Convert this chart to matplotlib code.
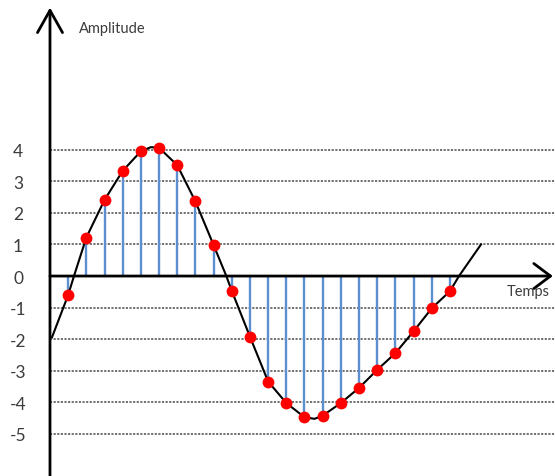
import matplotlib
matplotlib.use("Agg")
import matplotlib.pyplot as plt

plt.rcParams['font.family'] = ['Lato', 'DejaVu Sans']

# Sample instants and sampled amplitudes (red dots + blue stems)
sample_t = list(range(1, 23))
sample_v = [-0.60, 1.22, 2.41, 3.33, 3.95, 4.06, 3.51, 2.36, 0.98, -0.47,
            -1.92, -3.34, -4.02, -4.47, -4.42, -4.02, -3.54, -2.97, -2.44,
            -1.75, -1.02, -0.48]

# Continuous signal (black curve)
curve_t = [0.11, 1.0, 1.32, 2.0, 3.0, 4.0, 5.0, 5.55, 6.0, 7.0, 8.0, 9.0, 9.7,
           10.0, 11.0, 12.0, 13.0, 14.0, 14.55, 15.0, 16.0, 17.0, 18.0, 19.0,
           20.0, 21.0, 22.0, 22.5, 23.71]
curve_v = [-1.94, -0.60, 0.0, 1.22, 2.41, 3.33, 3.95, 4.08, 4.06, 3.51, 2.36,
           0.98, 0.0, -0.47, -1.92, -3.34, -4.02, -4.47, -4.52, -4.42, -4.02,
           -3.54, -2.97, -2.44, -1.75, -1.02, -0.48, 0.0, 1.0]

yticks = [4, 3, 2, 1, 0, -1, -2, -3, -4, -5]
ytick_labels = ["4", "3", "2", "1", "0", "-1", "-2", "-3", "-4", "-5"]

xlim = (-2.75, 27.78)
ylim = (-6.33, 8.77)

fig = plt.figure(figsize=(5.55, 4.77), dpi=100)
ax = fig.add_axes([0, 0, 1, 1])
ax.set_xlim(*xlim)
ax.set_ylim(*ylim)

for s in ax.spines.values():
    s.set_visible(False)
ax.spines['left'].set_position(('data', 0))
ax.set_xticks([])
ax.set_yticks(yticks)
ax.set_yticklabels(ytick_labels, fontsize=12.5, color='#3c3c3c')
ax.tick_params(axis='y', length=0, pad=23)
for lab in ax.get_yticklabels():
    lab.set_horizontalalignment('center')

# dotted horizontal grid lines
grid_vals = [v for v in yticks if v != 0]
ax.hlines(grid_vals, 0, xlim[1], colors='#666666', linewidth=1.3,
          linestyles=(0, (1.2, 0.8)), zorder=1)

# stems
ax.vlines(sample_t, 0, sample_v, colors='#5B8FD0', linewidth=1.7, zorder=2)

# axes with arrows
ax.annotate('', xy=(0, 8.5), xytext=(0, ylim[0]),
            arrowprops=dict(arrowstyle='->,head_length=1.6,head_width=0.9',
                            lw=2.0, color='black', shrinkA=0, shrinkB=0,
                            mutation_scale=10), zorder=3)
ax.annotate('', xy=(27.66, 0), xytext=(0, 0),
            arrowprops=dict(arrowstyle='->,head_length=1.2,head_width=0.9',
                            lw=2.0, color='black', shrinkA=0, shrinkB=0,
                            mutation_scale=10), zorder=3)

# continuous signal
ax.plot(curve_t, curve_v, color='black', linewidth=1.5, zorder=4,
        solid_joinstyle='round')

# samples
ax.plot(sample_t, sample_v, 'o', color='#FF0000', markersize=8.5,
        markeredgewidth=0, zorder=5)

ax.text(1.6, 7.85, "Amplitude", fontsize=10.5, color='#3c3c3c',
        ha='left', va='center')
ax.text(25.1, -0.48, "Temps", fontsize=10.5, color='#3c3c3c',
        ha='left', va='center')

fig.savefig("out.png", dpi=100)
